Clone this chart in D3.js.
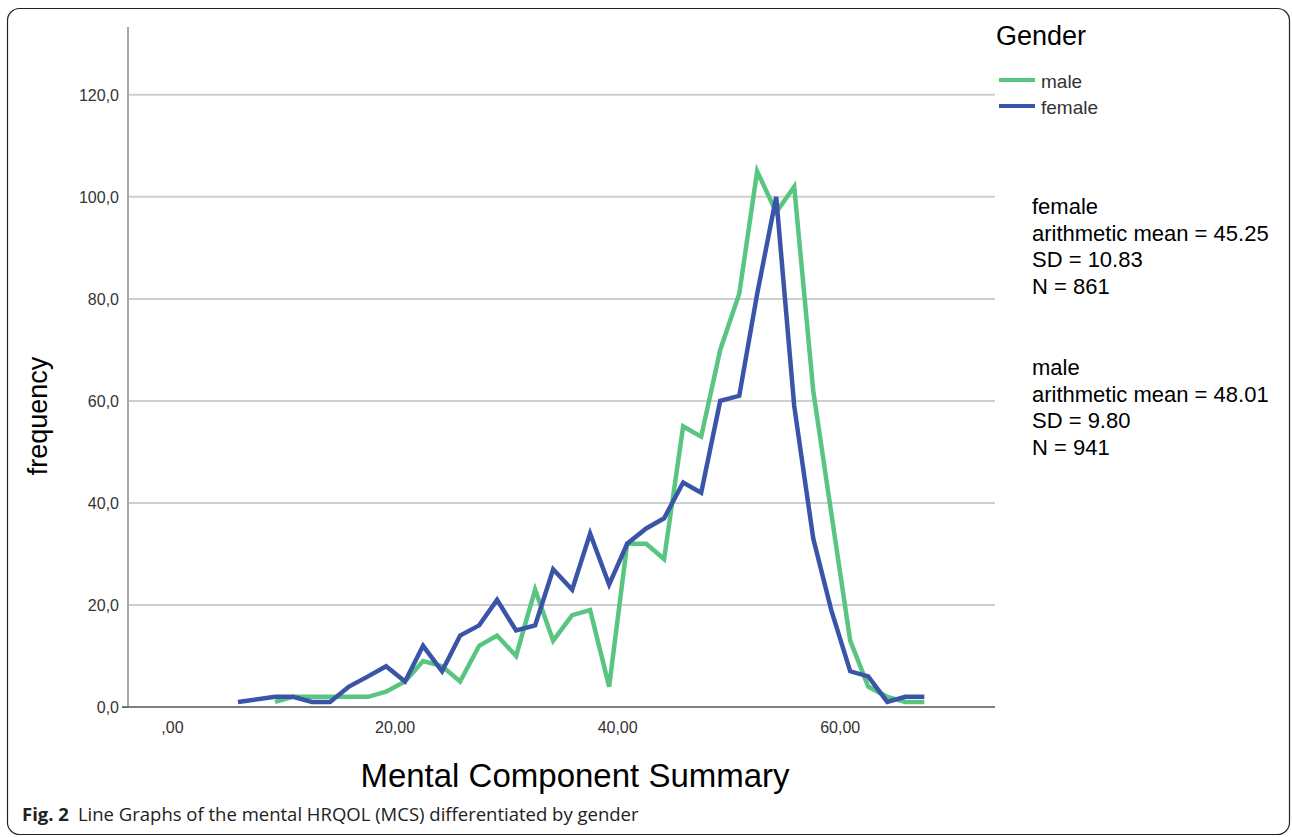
<!DOCTYPE html>
<html>
<head>
<meta charset="utf-8">
<script src="https://cdn.jsdelivr.net/npm/d3@7"></script>
<style>
  body { margin: 0; background: #fff; }
  text { font-family: "Liberation Sans", Arial, sans-serif; }
</style>
</head>
<body>
<svg id="chart" width="1292" height="837"></svg>
<script>
// MCS values at which the frequencies were plotted
var mcs = [5.93, 9.26, 10.88, 12.58, 14.20, 15.91, 17.62, 19.24, 20.94, 22.56, 24.27, 25.89,
           27.60, 29.21, 30.92, 32.63, 34.25, 35.96, 37.57, 39.28, 40.90, 42.61, 44.22, 45.93,
           47.55, 49.26, 50.97, 52.58, 54.29, 55.91, 57.62, 59.24, 60.94, 62.56, 64.27, 65.89, 67.60];
var male = [null, 1, 2, 2, 2, 2, 2, 3, 5, 9, 8, 5, 12, 14, 10, 23, 13, 18, 19, 4, 32, 32, 29, 55,
            53, 70, 81, 105, 97, 102, 62, 38, 13, 4, 2, 1, 1];
var female = [1, 2, 2, 1, 1, 4, 6, 8, 5, 12, 7, 14, 16, 21, 15, 16, 27, 23, 34, 24, 32, 35, 37, 44,
              42, 60, 61, 81, 100, 59, 33, 19, 7, 6, 1, 2, 2];
var xTicks = [0, 20, 40, 60];
var yTicks = [0, 20, 40, 60, 80, 100, 120];
var seriesNames = ["male", "female"];
var colors = {male: "#58c580", female: "#3a55a8"};
var statsFemale = ["female", "arithmetic mean = 45.25", "SD = 10.83", "N = 861"];
var statsMale = ["male", "arithmetic mean = 48.01", "SD = 9.80", "N = 941"];

var svg = d3.select('#chart');
var font = "'Liberation Sans', Arial, sans-serif";

// outer frame
svg.append("rect")
    .attr("x", 7.5).attr("y", 8.5)
    .attr("width", 1282).attr("height", 826)
    .attr("rx", 12)
    .attr("fill", "none").attr("stroke", "#222").attr("stroke-width", 1.2);

var plot = {left: 128, right: 995, top: 27, bottom: 707};

var x = d3.scaleLinear().domain([-3.95, 73.95]).range([plot.left, plot.right]);
var y = d3.scaleLinear().domain([0, 133.3]).range([plot.bottom, plot.top]);

// gridlines
svg.append("g")
    .selectAll("line")
    .data(yTicks.filter(function(d) { return d > 0; }))
    .enter().append("line")
    .attr("x1", plot.left).attr("x2", plot.right)
    .attr("y1", function(d) { return y(d); })
    .attr("y2", function(d) { return y(d); })
    .attr("stroke", "#cfcfcf").attr("stroke-width", 2);

// y axis
var yAxis = d3.axisLeft(y).tickValues(yTicks).tickSize(6)
    .tickFormat(function(d) { return d3.format(".1f")(d).replace(".", ","); });
var gy = svg.append("g")
    .attr("transform", "translate(" + plot.left + ",0)")
    .call(yAxis);
gy.attr("font-family", font).attr("font-size", 16);
gy.select(".domain").remove();
gy.selectAll(".tick line").attr("stroke", "#999").attr("x2", 0).attr("x1", -6)
    .attr("opacity", function(d) { return d === 0 ? 1 : 0; });
gy.selectAll(".tick text").attr("x", -9).attr("dy", "0.35em").attr("fill", "#333");
svg.append("line")
    .attr("x1", plot.left).attr("x2", plot.left)
    .attr("y1", plot.top).attr("y2", plot.bottom)
    .attr("stroke", "#a8a8a8").attr("stroke-width", 2);

// x axis
var xAxis = d3.axisBottom(x).tickValues(xTicks).tickSize(0)
    .tickFormat(function(d) { return d === 0 ? ",00" : d3.format(".2f")(d).replace(".", ","); });
var gx = svg.append("g")
    .attr("transform", "translate(0," + plot.bottom + ")")
    .call(xAxis);
gx.attr("font-family", font).attr("font-size", 16);
gx.select(".domain").remove();
gx.selectAll(".tick text").attr("y", 26).attr("dy", "0").attr("fill", "#333");
svg.append("line")
    .attr("x1", plot.left - 6).attr("x2", plot.right)
    .attr("y1", plot.bottom).attr("y2", plot.bottom)
    .attr("stroke", "#555").attr("stroke-width", 1.5);

// lines
var line = d3.line()
    .defined(function(d) { return d[1] !== null; })
    .x(function(d) { return x(d[0]); })
    .y(function(d) { return y(d[1]); });

var seriesData = {
    male: mcs.map(function(m, i) { return [m, male[i]]; }),
    female: mcs.map(function(m, i) { return [m, female[i]]; })
};

seriesNames.forEach(function(name) {
    svg.append("path")
        .datum(seriesData[name])
        .attr("d", line)
        .attr("fill", "none")
        .attr("stroke", colors[name])
        .attr("stroke-width", 4.5)
        .attr("stroke-linejoin", "miter");
});

// axis titles
svg.append("text")
    .attr("x", 575).attr("y", 787)
    .attr("text-anchor", "middle")
    .style("font-size", "33px")
    .text("Mental Component Summary");

svg.append("text")
    .attr("transform", "translate(" + 47 + "," + 416 + ") rotate(-90)")
    .attr("text-anchor", "middle")
    .style("font-size", "27px")
    .text("frequency");

// legend
svg.append("text")
    .attr("x", 996).attr("y", 45)
    .style("font-size", "27px")
    .text("Gender");

var legend = svg.append("g").selectAll("g")
    .data(seriesNames)
    .enter().append("g")
    .attr("transform", function(d, i) { return "translate(999," + (80 + i * 26) + ")"; });
legend.append("line")
    .attr("x1", 0).attr("x2", 36)
    .attr("stroke", function(d) { return colors[d]; })
    .attr("stroke-width", 4);
legend.append("text")
    .attr("x", 42).attr("y", 8)
    .attr("fill", "#333")
    .style("font-size", "19px")
    .text(function(d) { return d; });

// summary statistics
function stats(lines, top) {
    svg.append("g").selectAll("text")
        .data(lines)
        .enter().append("text")
        .attr("x", 1032)
        .attr("y", function(d, i) { return top + i * 26.7; })
        .style("font-size", "22px")
        .text(function(d) { return d; });
}
stats(statsFemale, 214);
stats(statsMale, 375);

// caption
var cap = svg.append("text")
    .attr("x", 22).attr("y", 821)
    .style("font-family", "'Open Sans', sans-serif")
    .style("font-size", "18.5px")
    .attr("fill", "#222");
cap.append("tspan").style("font-weight", "bold")
    .style("font-family", "'Open Sans', sans-serif").text("Fig. 2");
cap.append("tspan").attr("dx", 9)
    .style("font-family", "'Open Sans', sans-serif")
    .text("Line Graphs of the mental HRQOL (MCS) differentiated by gender");
</script>
</body>
</html>
